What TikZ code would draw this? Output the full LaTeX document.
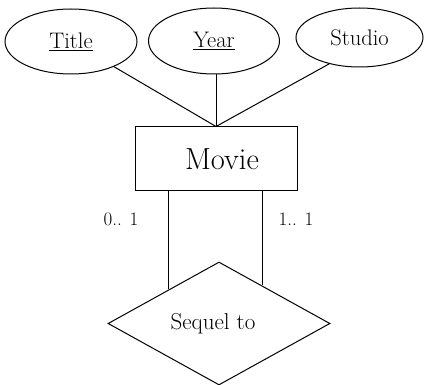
\documentclass[tikz,border=0pt]{standalone}
\usetikzlibrary{shapes.geometric,calc}
\begin{document}
\begin{tikzpicture}[x=1pt,y=1pt,
  line width=1pt,
  attr/.style={draw, ellipse, inner sep=0pt, font=\fontsize{22.5}{26}\selectfont},
  entity/.style={draw, rectangle, inner sep=0pt, minimum width=162pt, minimum height=64pt, font=\fontsize{30.5}{36}\selectfont},
  rel/.style={draw, diamond, inner sep=0pt, minimum width=222pt, minimum height=123pt, font=\fontsize{23}{26}\selectfont},
  card/.style={inner sep=0pt, font=\fontsize{19}{23}\selectfont}]
\useasboundingbox (0,0) rectangle (426,-385);
\node[attr, minimum width=132pt, minimum height=65pt] (title) at (71,-41.5) {\underline{Title}};
\node[attr, minimum width=131pt, minimum height=66pt] (year) at (214,-41) {\underline{Year}};
\node[attr, minimum width=127pt, minimum height=59pt] (studio) at (359.5,-37.5) {Studio};
\node[entity] (movie) at (216,-159) {\hspace*{12pt}Movie};
\node[rel] (seq) at (219,-323.5) {Sequel to\hspace*{12pt}};
\draw (movie.north) -- (title);
\draw (movie.north) -- (movie.north |- year.south);
\draw (movie.north) -- (studio.221);
\coordinate (pl) at ($(seq.west)!0.55!(seq.north)$);
\coordinate (pr) at ($(seq.north)!0.387!(seq.east)$);
\draw (movie.south -| pl) -- (pl);
\draw (movie.south -| pr) -- (pr);
\node[card] (c1) at (121,-219) {0.. 1};
\node[card] (c2) at (296,-219) {1.. 1};
\end{tikzpicture}
\end{document}
